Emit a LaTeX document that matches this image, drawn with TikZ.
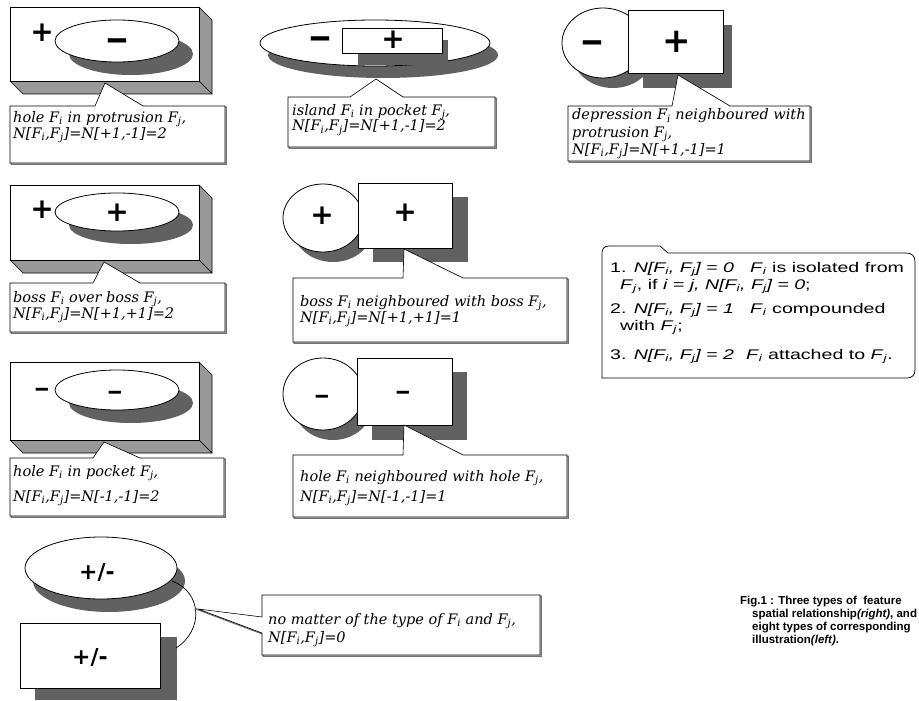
\documentclass[tikz,border=0pt]{standalone}
\usepackage{fontspec}
\usepackage{graphicx}
\setmainfont{DejaVu Serif}
\newfontfamily\notefont{DejaVu Serif}
\newfontfamily\legendfont{Liberation Sans}[FakeStretch=1.4]
\newfontfamily\capfont{Liberation Sans}
\newfontfamily\signfont{DejaVu Sans}
% F with a subscript index
\newcommand{\Fs}[1]{\textit{F}\textsubscript{\textit{#1}}}
% wide bar used as the minus sign
\newcommand{\mybar}{\scalebox{2}[1]{-}}

\tikzset{
  slabside/.style={fill=black!40, draw=black, line width=0.6pt, line join=round},
  face/.style={fill=white, draw=black, line width=0.8pt},
  shade/.style={fill=black!62},
  callout/.style={fill=white, draw=black, line width=0.6pt, line join=miter,
    preaction={draw=black!55, line width=1.3pt, transform canvas={shift={(1.2pt,-1.2pt)}}}},
  legendbox/.style={fill=white, draw=black, line width=0.7pt},
  note/.style={font=\notefont\itshape\fontsize{14.5}{16}\selectfont, anchor=base west, inner sep=0pt},
  legendtext/.style={font=\legendfont\fontsize{14}{16}\selectfont, anchor=base west, inner sep=0pt},
  captext/.style={font=\capfont\bfseries\fontsize{11.5}{13}\selectfont, anchor=base west, inner sep=0pt},
  bigsign/.style={font=\signfont\bfseries\fontsize{28}{28}\selectfont, inner sep=0pt},
  hugesign/.style={font=\signfont\bfseries\fontsize{34}{34}\selectfont, inner sep=0pt},
  bigminus/.style={font=\signfont\bfseries\fontsize{30}{30}\selectfont, inner sep=0pt, yshift=-3.4pt},
  smallminus/.style={font=\signfont\bfseries\fontsize{20}{20}\selectfont, inner sep=0pt, yshift=-2.3pt},
  pmsign/.style={font=\signfont\bfseries\fontsize{22}{22}\selectfont, inner sep=0pt},
  bracket/.style={draw=black, line width=0.7pt},
}

\begin{document}
\begin{tikzpicture}[x=1pt,y=-1pt]
\fill[white] (0,0) rectangle (919,701);
\useasboundingbox (0,0) rectangle (919,701);

% ---------- slab with an elliptic feature: hole in protrusion ----------
\filldraw[slabside] (199,7) -- (212,20) -- (212,94) -- (199,81) -- cycle;
\filldraw[slabside] (10,81) -- (199,81) -- (212,94) -- (23,94) -- cycle;
\draw[face] (10,7) rectangle (199,81);
\fill[shade] (131,54) ellipse [x radius=62, y radius=21];
\draw[face] (117,41) ellipse [x radius=62, y radius=21];
\node[bigsign] (p1a) at (42,33) {+};
\node[bigminus] (m1a) at (117,41) {\mybar};

% ---------- island in pocket ----------
\fill[shade] (383,55) ellipse [x radius=115, y radius=23];
\draw[face] (375,43) ellipse [x radius=115, y radius=23];
\fill[shade] (358,40) rectangle (448,65);
\draw[face] (342,28) rectangle (442,53);
\node[bigminus] (m1b) at (320,39) {\mybar};
\node[bigsign] (p1b) at (393,40) {+};

% ---------- depression neighboured with protrusion ----------
\fill[shade] (613,53) ellipse [x radius=41, y radius=35];
\fill[shade] (643,25) rectangle (732,88);
\draw[face] (603,43) ellipse [x radius=41, y radius=35];
\draw[face] (628,10) rectangle (723,73);
\node[bigminus] (m1c) at (592,43) {\mybar};
\node[hugesign] (p1c) at (677,42) {+};

% ---------- boss over boss ----------
\filldraw[slabside] (199,185) -- (212,198) -- (212,273) -- (199,260) -- cycle;
\filldraw[slabside] (10,260) -- (199,260) -- (212,273) -- (23,273) -- cycle;
\draw[face] (10,185) rectangle (199,260);
\fill[shade] (131,225) ellipse [x radius=62, y radius=19];
\draw[face] (117,212) ellipse [x radius=62, y radius=19];
\node[bigsign] (p2a) at (42,210) {+};
\node[bigsign] (p2b) at (117,213) {+};

% ---------- boss neighboured with boss ----------
\fill[shade] (333,228) ellipse [x radius=40, y radius=34];
\fill[shade] (373,197) rectangle (468,262);
\draw[face] (323,218) ellipse [x radius=40, y radius=34];
\draw[face] (358,183) rectangle (452,248);
\node[bigsign] (p2c) at (322,216) {+};
\node[bigsign] (p2d) at (405,213) {+};

% ---------- hole in pocket ----------
\filldraw[slabside] (199,362) -- (212,375) -- (212,453) -- (199,440) -- cycle;
\filldraw[slabside] (10,440) -- (199,440) -- (212,453) -- (23,453) -- cycle;
\draw[face] (10,362) rectangle (199,440);
\fill[shade] (131,403) ellipse [x radius=62, y radius=20];
\draw[face] (117,390) ellipse [x radius=62, y radius=20];
\node[smallminus] (m3a) at (42,390) {\mybar};
\node[smallminus] (m3b) at (115,393) {\mybar};

% ---------- hole neighboured with hole ----------
\fill[shade] (333,404) ellipse [x radius=40, y radius=36];
\fill[shade] (372,372) rectangle (467,440);
\draw[face] (323,394) ellipse [x radius=40, y radius=36];
\draw[face] (357,358) rectangle (452,425);
\node[smallminus] (m3c) at (322,397) {\mybar};
\node[smallminus] (m3d) at (403,393) {\mybar};

% ---------- unrelated features ----------
\fill[shade] (109,581) ellipse [x radius=76, y radius=31];
\draw[face] (101,568) ellipse [x radius=76, y radius=31];
\fill[shade] (35,637) rectangle (177,700);
\draw[face] (20,623) rectangle (160,688);
\draw[bracket] (172,581) .. controls (202,592) and (204,630) .. (176,648);
\node[pmsign] (pm1) at (97,572) {+/-};
\node[pmsign] (pm2) at (90,657) {+/-};

% ---------- callouts ----------
\draw[callout] (10,106) -- (95,106) -- (105,83) -- (143,106) -- (225,106) -- (225,163) -- (10,163) -- cycle;
\node[note] (c1a) at (13,122) {hole \Fs{i} in protrusion \Fs{j},};
\node[note] (c1b) at (13,138) {N[\Fs{i},\Fs{j}]=N[+1,-1]=2};

\draw[callout] (288,97) -- (350,97) -- (376,79) -- (403,97) -- (495,97) -- (495,147) -- (288,147) -- cycle;
\node[note] (c2a) at (292,115) {island \Fs{i} in pocket \Fs{j},};
\node[note] (c2b) at (292,131) {N[\Fs{i},\Fs{j}]=N[+1,-1]=2};

\draw[callout] (568,106) -- (672,106) -- (678,75) -- (730,106) -- (810,106) -- (810,161) -- (568,161) -- cycle;
\node[note] (c3a) at (572,120) {depression \Fs{i} neighboured with};
\node[note] (c3b) at (572,137) {protrusion \Fs{j},};
\node[note] (c3c) at (572,154) {N[\Fs{i},\Fs{j}]=N[+1,-1]=1};

\draw[callout] (10,283) -- (93,283) -- (104,262) -- (140,283) -- (225,283) -- (225,332) -- (10,332) -- cycle;
\node[note] (c4a) at (13,302) {boss \Fs{i} over boss \Fs{j},};
\node[note] (c4b) at (13,318) {N[\Fs{i},\Fs{j}]=N[+1,+1]=2};

\draw[callout] (293,278) -- (403,278) -- (404,249) -- (463,278) -- (567,278) -- (567,342) -- (293,342) -- cycle;
\node[note] (c5a) at (300,306) {boss \Fs{i} neighboured with boss \Fs{j},};
\node[note] (c5b) at (300,322) {N[\Fs{i},\Fs{j}]=N[+1,+1]=1};

\draw[callout] (10,458) -- (93,458) -- (104,442) -- (140,458) -- (224,458) -- (224,516) -- (10,516) -- cycle;
\node[note] (c6a) at (13,476) {hole \Fs{i} in pocket \Fs{j},};
\node[note] (c6b) at (13,501) {N[\Fs{i},\Fs{j}]=N[-1,-1]=2};

\draw[callout] (293,455) -- (403,455) -- (404,425) -- (463,455) -- (567,455) -- (567,517) -- (293,517) -- cycle;
\node[note] (c7a) at (300,481) {hole \Fs{i} neighboured with hole \Fs{j},};
\node[note] (c7b) at (300,501) {N[\Fs{i},\Fs{j}]=N[-1,-1]=1};

\draw[callout] (262,595) -- (540,595) -- (540,655) -- (262,655) -- (262,633) -- (198,609) -- (262,617) -- cycle;
\node[note] (c8a) at (268,624) {no matter of the type of \Fs{i} and \Fs{j},};
\node[note] (c8b) at (268,642) {N[\Fs{i},\Fs{j}]=0};

% ---------- legend folder ----------
\draw[legendbox] (602,378) -- (602,253) .. controls (602,249) and (604,246) .. (609,246)
  -- (660,246) -- (668,253) -- (906,253) .. controls (912,253) and (915,256) .. (915,262)
  -- (915,370) .. controls (915,375) and (912,378) .. (907,378) -- cycle;
\node[legendtext] (lg1) at (610,272) {1. \textit{N[\Fs{i}, \Fs{j}] = 0}\hspace{16pt}\Fs{i} is isolated from};
\node[legendtext] (lg2) at (620,289) {\Fs{j}, if \textit{i = j, N[\Fs{i}, \Fs{j}] = 0};};
\node[legendtext] (lg3) at (610,313) {2. \textit{N[\Fs{i}, \Fs{j}] = 1}\hspace{16pt}\Fs{i} compounded};
\node[legendtext] (lg4) at (620,330) {with \Fs{j};};
\node[legendtext] (lg5) at (610,359) {3. \textit{N[\Fs{i}, \Fs{j}] = 2}\hspace{12pt}\Fs{i} attached to \Fs{j}.};

% ---------- caption ----------
\node[captext] (cap1) at (740,604) {Fig.1 : Three types of\ \ feature};
\node[captext] (cap2) at (752,617) {spatial relationship\textit{(right)}, and};
\node[captext] (cap3) at (752,630) {eight types of corresponding};
\node[captext] (cap4) at (752,643) {illustration\textit{(left)}.};
\end{tikzpicture}
\end{document}
